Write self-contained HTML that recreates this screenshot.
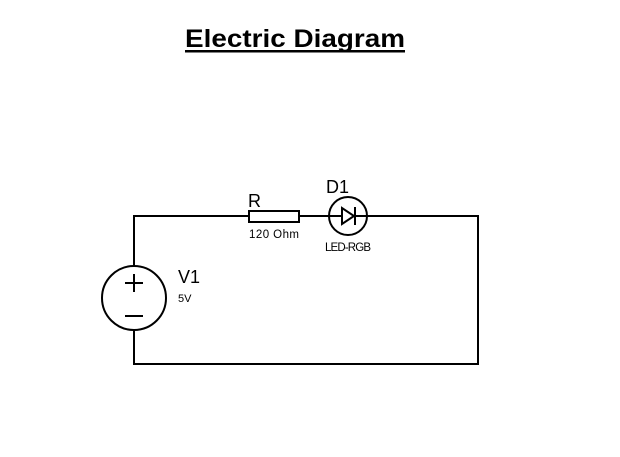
<!DOCTYPE html>
<html><head><style>body{margin:0;background:#fff}svg{display:block}</style></head><body>
<svg width="620" height="457" xmlns="http://www.w3.org/2000/svg" font-family="Liberation Sans, Arial, sans-serif">
<rect width="620" height="457" fill="#fff"/>
<text x="185" y="47" font-size="25" font-weight="bold" fill="#000" textLength="220" lengthAdjust="spacingAndGlyphs">Electric Diagram</text>
<rect x="185" y="50" width="220" height="2.5" fill="#000"/>
<g stroke="#000" stroke-width="2" fill="none">
<polyline points="134,266 134,216 249,216"/>
<line x1="299" y1="216" x2="329" y2="216"/>
<polyline points="367,216 478,216 478,364 134,364 134,330"/>
<rect x="249" y="211" width="50" height="11" fill="#fff"/>
<circle cx="348" cy="216" r="19"/>
<circle cx="134" cy="298" r="32"/>
<line x1="125" y1="283" x2="143" y2="283"/>
<line x1="134" y1="274" x2="134" y2="292"/>
<line x1="125" y1="316" x2="143" y2="316"/>
<line x1="329" y1="216" x2="342" y2="216"/>
<line x1="354" y1="216" x2="367" y2="216"/>
<polygon points="342,208 342,224 354,216"/>
<line x1="355" y1="207" x2="355" y2="225"/>
</g>
<g fill="#000">
<text x="248" y="207" font-size="18">R</text>
<text x="249" y="238" font-size="11.5" textLength="50">120 Ohm</text>
<text x="326" y="193" font-size="18">D1</text>
<text x="325" y="251" font-size="11.5" textLength="46">LED-RGB</text>
<text x="178" y="283" font-size="18">V1</text>
<text x="178" y="302" font-size="11">5V</text>
</g>
</svg>
</body></html>
